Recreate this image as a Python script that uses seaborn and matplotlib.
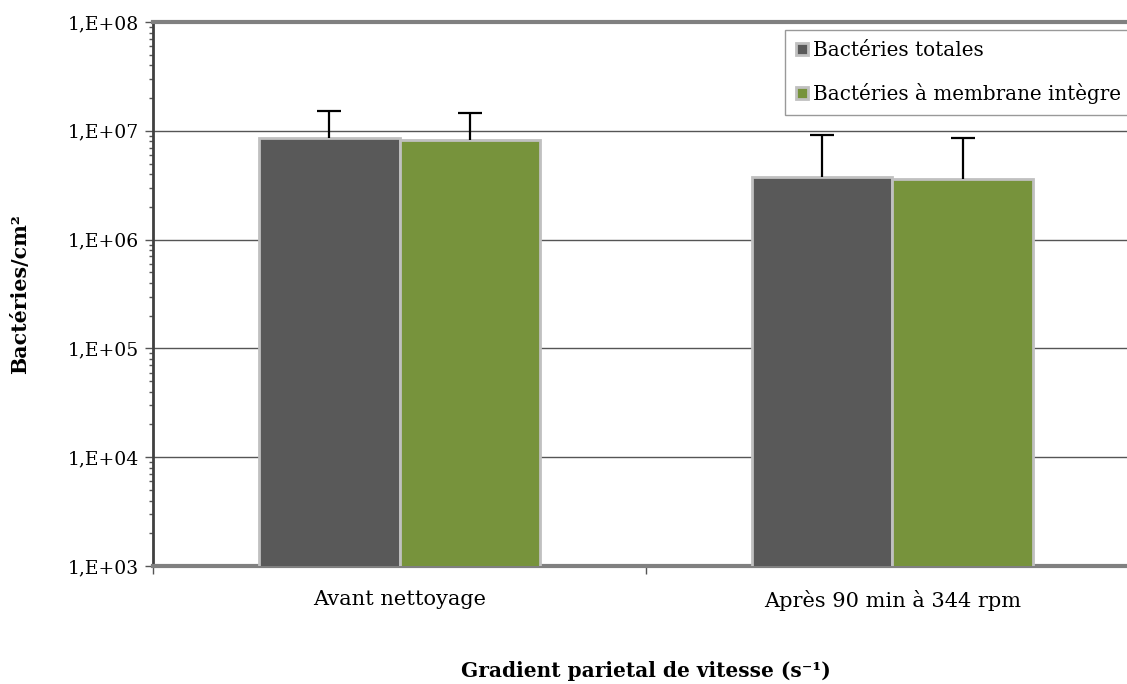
import matplotlib
matplotlib.use('Agg')
import matplotlib.pyplot as plt
import seaborn as sns
import pandas as pd
import numpy as np
from matplotlib.ticker import LogLocator, FuncFormatter, FixedLocator, NullFormatter

# données
categories = ['Avant nettoyage', 'Après 90 min à 344 rpm']
series = ['Bactéries totales', 'Bactéries à membrane intègre']
totales = [8.6e6, 3.8e6]
integres = [8.3e6, 3.6e6]
err_totales = [6.7e6, 5.4e6]
err_integres = [6.3e6, 5.0e6]

couleurs = ['#595959', '#77933c']

df = pd.DataFrame({
    'categorie': categories * 2,
    'serie': [series[0]] * 2 + [series[1]] * 2,
    'valeur': totales + integres,
    'err': err_totales + err_integres,
})

sns.set_style('white')
plt.rcParams['font.family'] = ['DejaVu Serif']

fig = plt.figure(figsize=(11.27, 6.84), dpi=100)
ax = fig.add_axes([0.1358, 0.1725, 0.8748, 0.7953])
ax.set_yscale('log')

sns.barplot(data=df, x='categorie', y='valeur', hue='serie', order=categories,
            hue_order=series, palette=couleurs, width=0.57, gap=0,
            edgecolor='#c0c0c0', linewidth=2, saturation=1, ax=ax, zorder=3)

# barres d'erreur (seulement vers le haut, sans chapeau en bas)
for cont, s in zip(ax.containers, series):
    sub = df[df['serie'] == s].set_index('categorie').loc[categories]
    xs = [p.get_x() + p.get_width() / 2 for p in cont.patches]
    eb = ax.errorbar(xs, sub['valeur'], yerr=[np.zeros(len(xs)), sub['err']],
                     fmt='none', ecolor='black', elinewidth=1.6, capsize=8.5,
                     capthick=1.6, zorder=4)
    eb[1][0].set_visible(False)

ax.set_ylim(1e3, 1e8)
ax.set_xlim(-0.5, 1.5)
ax.yaxis.set_major_locator(LogLocator(base=10))
ax.yaxis.set_minor_locator(LogLocator(base=10, subs=np.arange(2, 10)))
ax.yaxis.set_minor_formatter(NullFormatter())
ax.yaxis.set_major_formatter(FuncFormatter(lambda v, p: '1,E+%02d' % int(round(np.log10(v)))))
ax.yaxis.grid(True, which='major', color='#555555', linewidth=1, zorder=0)
ax.set_axisbelow(True)

ax.tick_params(axis='y', which='major', left=True, length=6, width=1, color='#555555',
               labelsize=13.5, pad=4, labelcolor='black')
ax.tick_params(axis='y', which='minor', left=True, length=3, width=1, color='#555555')
ax.set_xticks([0, 1])
ax.set_xticklabels(categories)
ax.xaxis.set_minor_locator(FixedLocator([-0.5, 0.5, 1.5]))
ax.tick_params(axis='x', which='major', bottom=False, labelsize=15, pad=14, labelcolor='black')
ax.tick_params(axis='x', which='minor', bottom=True, length=6, width=1, color='#555555')

for side in ['top', 'bottom']:
    ax.spines[side].set_color('#808080')
    ax.spines[side].set_linewidth(3)
ax.spines['left'].set_color('#404040')
ax.spines['left'].set_linewidth(2)
ax.spines['right'].set_visible(False)

ax.set_ylabel('Bactéries/cm²', fontsize=14.8, fontweight='bold', labelpad=27,
              color='black')
ax.set_xlabel('Gradient parietal de vitesse (s⁻¹)', fontsize=14.5,
              fontweight='bold', labelpad=36, color='black')

handles, labels = ax.get_legend_handles_labels()
leg = ax.legend(handles, labels, loc='upper left', bbox_to_anchor=(0.641, 0.985),
                fontsize=14.3, frameon=True, fancybox=False, edgecolor='#808080',
                handlelength=0.6, handleheight=0.6, handletextpad=0.25,
                labelspacing=1.15, borderpad=0.55, borderaxespad=0)
leg.get_frame().set_linewidth(1)
for t in leg.get_texts():
    t.set_color('black')

plt.savefig('out.png', dpi=100)
plt.close()
